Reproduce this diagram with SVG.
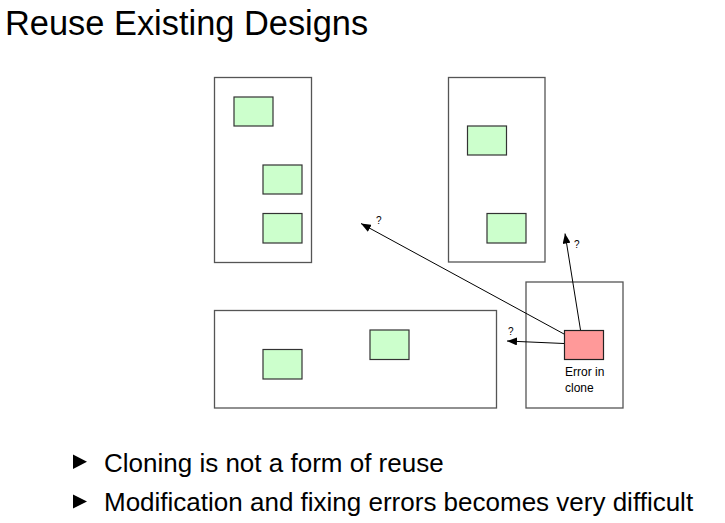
<svg xmlns="http://www.w3.org/2000/svg" width="725" height="523" viewBox="0 0 725 523">
<style>
.frame{fill:#fff;stroke:#555;stroke-width:1.3}
.comp{fill:#ccffcc;stroke:#333;stroke-width:1.2}
.err{fill:#ff9999;stroke:#222;stroke-width:1.2}
.arr{stroke:#000;stroke-width:1;fill:none;marker-end:url(#ah)}
text{font-family:"Liberation Sans",Arial,sans-serif;fill:#000}
.q{font-size:10px}
.lbl{font-size:12px}
.bul{font-size:26px}
</style>
<defs>
<marker id="ah" viewBox="0 0 10 8" refX="10" refY="4" markerWidth="10" markerHeight="8" markerUnits="userSpaceOnUse" orient="auto">
<path d="M0,0 L10,4 L0,8 Z" fill="#000"/>
</marker>
</defs>
<rect width="725" height="523" fill="#fff"/>
<text x="5" y="35" font-size="34.4">Reuse Existing Designs</text>
<g id="design1">
<rect class="frame" x="214.5" y="77.5" width="97" height="185"/>
<rect class="comp" x="234" y="97" width="39" height="29"/>
<rect class="comp" x="263" y="165" width="39" height="29"/>
<rect class="comp" x="263" y="213.5" width="39" height="29.5"/>
</g>
<g id="design2">
<rect class="frame" x="448.5" y="77.5" width="96.5" height="184.5"/>
<rect class="comp" x="467.5" y="126" width="39" height="29"/>
<rect class="comp" x="487" y="213.5" width="39" height="29.5"/>
</g>
<g id="design3">
<rect class="frame" x="214.5" y="310.5" width="282" height="97.5"/>
<rect class="comp" x="263" y="349.5" width="39" height="29.5"/>
<rect class="comp" x="370" y="330" width="39" height="29.5"/>
</g>
<g id="clone">
<rect class="frame" x="526" y="282" width="97" height="126"/>
<rect class="err" x="564.5" y="330.5" width="39" height="29"/>
<text class="lbl" x="565" y="376">Error in</text>
<text class="lbl" x="565" y="392">clone</text>
</g>
<g id="connectors">
<line class="arr" x1="564" y1="334" x2="361" y2="223.5"/>
<line class="arr" x1="564" y1="343.5" x2="507" y2="341"/>
<line class="arr" x1="580.5" y1="330" x2="565" y2="233.5"/>
<text class="q" x="376" y="224">?</text>
<text class="q" x="508" y="335">?</text>
<text class="q" x="574" y="248">?</text>
</g>
<g id="bullets">
<path d="M73,454.5 L87,461.7 L73,469 Z" fill="#000"/>
<path d="M73,494.5 L87,501.5 L73,508.5 Z" fill="#000"/>
<text class="bul" x="104" y="472">Cloning is not a form of reuse</text>
<text class="bul" x="104" y="511">Modification and fixing errors becomes very difficult</text>
</g>
</svg>
